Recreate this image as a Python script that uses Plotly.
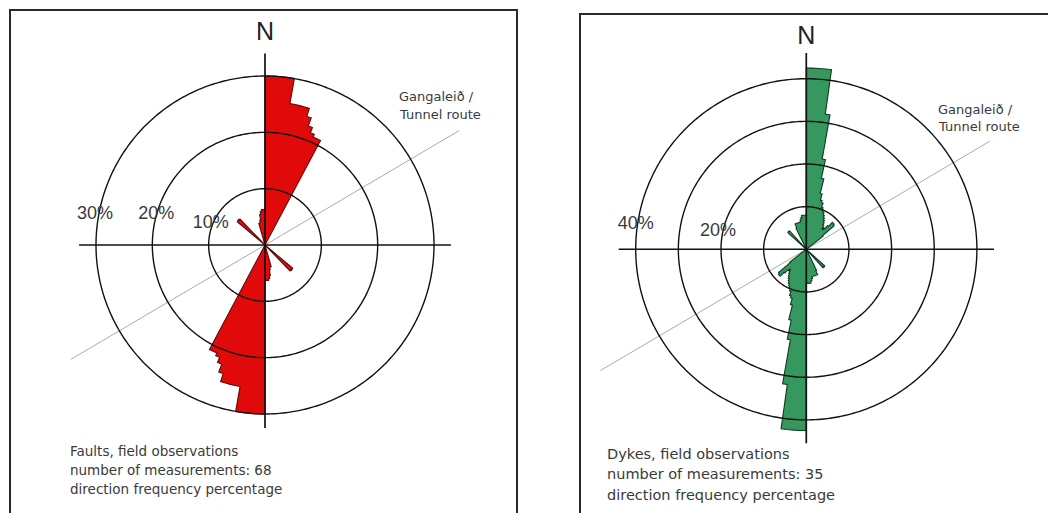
import math
import plotly.graph_objects as go

W, H = 1048, 513

# ---------------- data ----------------
BIN_DEG = 2  # width of a direction class (degrees); roses are bidirectional (mirrored +180)

# Faults: direction class start (deg, 0-180 half) and frequency (%)
fault_dirs = [0, 2, 4, 6, 8, 10, 12, 14, 16, 18, 20, 22, 24, 26,
              130, 132, 134,
              164, 166, 168, 170, 172, 174, 176, 178]
fault_pct = [30, 30, 30, 30, 30, 25.5, 25.5, 25.5, 25.5, 24, 22.5, 21.5, 21, 21,
             6.4, 6.5, 6.4,
             4, 4, 4.5, 5.5, 6, 6.3, 6.3, 6.3]

# Dykes
dyke_dirs = [0, 2, 4, 6, 8, 10, 12, 14, 16, 18, 20, 22, 24, 26, 28, 30, 32, 34, 36, 38, 40, 42,
             44, 46, 48, 50,
             132, 134, 136,
             154, 156, 158, 160, 162, 164, 166, 168, 170, 172, 174, 176, 178]
dyke_pct = [42.5, 42.5, 42.5, 42.5, 32, 21.5, 17, 13.5, 12, 11.5, 10.5, 10, 9.5, 9, 8.5, 8, 7.5, 7, 6.5, 6, 6.5, 7.5,
            8.8, 8.8, 8.5, 5,
            5.8, 5.9, 5.8,
            5.5, 6.5, 6.5, 6.5, 6.5, 6.5, 6.5, 7, 7.5, 8, 8, 8, 8]

fault_rings = [10, 20, 30]
fault_ring_labels = ["10%", "20%", "30%"]
dyke_rings = [10, 20, 30, 40]
dyke_label_rings = [20, 40]
dyke_ring_labels = ["20%", "40%"]

route_bearing = 59.5           # tunnel route direction (deg from N)
route_label = ["Gangaleið /", "Tunnel route"]
fault_caption = ["Faults, field observations",
                 "number of measurements: 68",
                 "direction frequency percentage"]
dyke_caption = ["Dykes, field observations",
                "number of measurements: 35",
                "direction frequency percentage"]

# ---------------- helpers ----------------
def domain(cx, cy, ppu, rmax):
    R = ppu * rmax
    return dict(x=[(cx - R) / W, (cx + R) / W], y=[1 - (cy + R) / H, 1 - (cy - R) / H])


def rose_path(dirs, pct, binw):
    vals = {}
    for d, p in zip(dirs, pct):
        vals[d % 360] = p
        vals[(d + 180) % 360] = p
    r, t = [], []
    for s in range(0, 360, binw):
        v = vals.get(s, 0.0)
        r += [v, v]
        t += [s, s + binw]
    r.append(r[0])
    t.append(t[0])
    return r, t


def px_to_polar(x, y, ppu):
    """pixel offset (x right, y up) from centre -> (r, theta clockwise from N)"""
    return math.hypot(x, y) / ppu, math.degrees(math.atan2(x, y)) % 360


fig = go.Figure()

AX_FONT = "Liberation Sans, Arial, sans-serif"
SMALL_FONT = "DejaVu Sans, sans-serif"


def add_panel(sub, cx, cy, ppu, rmax, dirs, pct, rings, lab_rings, lab_texts, lab_offsets,
              fill, edge, cross_up, cross_down, cross_side, route_ne, route_sw, n_up):
    # tunnel route
    fig.add_trace(go.Scatterpolar(r=[route_ne, route_sw], theta=[route_bearing, route_bearing + 180],
                                  mode="lines", line=dict(color="#ababab", width=1),
                                  subplot=sub, hoverinfo="skip"))
    # rose
    r, t = rose_path(dirs, pct, BIN_DEG)
    fig.add_trace(go.Scatterpolar(r=r, theta=t, mode="lines", fill="toself", fillcolor=fill,
                                  line=dict(color=edge, width=1.1), subplot=sub, hoverinfo="skip"))
    # rings
    th = list(range(0, 361, 1))
    for rv in rings:
        fig.add_trace(go.Scatterpolar(r=[rv] * len(th), theta=th, mode="lines",
                                      line=dict(color="#111111", width=1.4),
                                      subplot=sub, hoverinfo="skip"))
    # cross
    fig.add_trace(go.Scatterpolar(r=[cross_up, cross_down], theta=[0, 180], mode="lines",
                                  line=dict(color="#111111", width=1.7), subplot=sub, hoverinfo="skip"))
    fig.add_trace(go.Scatterpolar(r=[cross_side, cross_side], theta=[270, 90], mode="lines",
                                  line=dict(color="#111111", width=1.6), subplot=sub, hoverinfo="skip"))
    # ring labels
    lr, lt = [], []
    for rv, (dx, dy) in zip(lab_rings, lab_offsets):
        a, b = px_to_polar(-rv * ppu + dx, dy, ppu)
        lr.append(a)
        lt.append(b)
    fig.add_trace(go.Scatterpolar(r=lr, theta=lt, mode="text", text=lab_texts,
                                  textfont=dict(family=AX_FONT, size=18, color="#3a3a3a"),
                                  textposition="middle center", cliponaxis=False,
                                  subplot=sub, hoverinfo="skip"))
    # North label
    a, b = px_to_polar(0, n_up, ppu)
    fig.add_trace(go.Scatterpolar(r=[a], theta=[b], mode="text", text=["N"],
                                  textfont=dict(family=AX_FONT, size=25, color="#222222"),
                                  textposition="middle center", cliponaxis=False,
                                  subplot=sub, hoverinfo="skip"))


# left panel (faults)
L_CX, L_CY, L_PPU, L_RMAX = 265, 245, 169 / 30, 40.5
add_panel("polar", L_CX, L_CY, L_PPU, L_RMAX, fault_dirs, fault_pct, fault_rings,
          fault_rings, fault_ring_labels, [(2, 21), (4, 30.5), (-1, 30.5)],
          "#e00a0a", "#5c0a0a", 34, 32.5, 33, 40, 40, 211)

# right panel (dykes)
R_CX, R_CY, R_PPU, R_RMAX = 806.3, 249.3, 170.6 / 40, 56.5
add_panel("polar2", R_CX, R_CY, R_PPU, R_RMAX, dyke_dirs, dyke_pct, dyke_rings,
          dyke_label_rings, dyke_ring_labels, [(-3, 17.6), (0, 25)],
          "#36975f", "#0f3a22", 46, 45.5, 44, 50, 56, 211.8)

angular = dict(visible=False, rotation=90, direction="clockwise", showgrid=False)
fig.update_layout(
    polar=dict(domain=domain(L_CX, L_CY, L_PPU, L_RMAX),
               radialaxis=dict(visible=False, range=[0, L_RMAX]),
               angularaxis=angular, bgcolor="rgba(0,0,0,0)"),
    polar2=dict(domain=domain(R_CX, R_CY, R_PPU, R_RMAX),
                radialaxis=dict(visible=False, range=[0, R_RMAX]),
                angularaxis=angular, bgcolor="rgba(0,0,0,0)"),
)

# panel frames
def px_shape(x0, y0, x1, y1):
    return dict(type="rect", xref="paper", yref="paper",
                x0=x0 / W, x1=x1 / W, y0=1 - y1 / H, y1=1 - y0 / H,
                line=dict(color="#2a2a2a", width=2), fillcolor="rgba(0,0,0,0)")

shapes = [px_shape(10, 10, 517, 530), px_shape(580, 14, 1060, 530)]

annotations = []


def add_text_lines(lines, x, ys, size):
    for txt, y in zip(lines, ys):
        annotations.append(dict(text=txt, x=x / W, y=1 - y / H, xref="paper", yref="paper",
                                xanchor="left", yanchor="middle", showarrow=False,
                                font=dict(family=SMALL_FONT, size=size, color="#3a3a3a")))


add_text_lines(route_label, 397, [96, 115], 13)
add_text_lines(route_label, 936, [109, 127], 13)
add_text_lines(fault_caption, 68, [451, 469.5, 488.5], 13.5)
add_text_lines(dyke_caption, 605, [454, 474, 495], 14.5)

fig.update_layout(
    width=W, height=H, margin=dict(l=0, r=0, t=0, b=0),
    paper_bgcolor="white", plot_bgcolor="white", showlegend=False,
    shapes=shapes, annotations=annotations,
)

fig.write_html("out.html")
